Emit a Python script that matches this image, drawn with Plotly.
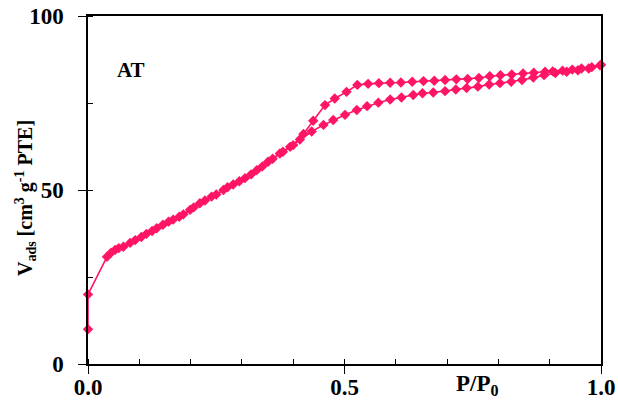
import plotly.graph_objects as go

# Adsorption branch (lower)
ads_x = [0.0, 0.0, 0.037, 0.053, 0.069, 0.092, 0.114, 0.134, 0.157, 0.178, 0.199, 0.218,
         0.241, 0.264, 0.283, 0.306, 0.329, 0.351, 0.374, 0.394, 0.413, 0.436, 0.459,
         0.478, 0.501, 0.524, 0.544, 0.566, 0.589, 0.611, 0.634, 0.652, 0.673, 0.696,
         0.717, 0.738, 0.760, 0.782, 0.803, 0.825, 0.846, 0.868, 0.889, 0.911, 0.933,
         0.955, 0.976, 0.998]
ads_y = [10.0, 20.0, 30.8, 32.8, 33.7, 35.6, 37.4, 39.0, 40.9, 42.3, 44.3, 46.2,
         48.1, 50.0, 51.6, 53.4, 55.7, 58.1, 60.5, 62.4, 64.5, 66.8, 68.7,
         70.1, 71.6, 73.0, 74.1, 75.1, 76.0, 76.6, 77.3, 77.8, 78.0, 78.4,
         78.9, 79.3, 79.7, 80.3, 80.7, 81.1, 81.6, 82.3, 83.0, 83.6, 84.0,
         84.4, 84.9, 85.8]

# Desorption branch (upper)
des_x = [1.000, 0.982, 0.962, 0.944, 0.925, 0.906, 0.891, 0.869, 0.848, 0.826, 0.804,
         0.783, 0.762, 0.740, 0.718, 0.696, 0.675, 0.654, 0.632, 0.610, 0.589, 0.567,
         0.546, 0.525, 0.504, 0.481, 0.462, 0.439, 0.420, 0.400, 0.380, 0.360, 0.340,
         0.318, 0.295, 0.272, 0.250, 0.228, 0.206, 0.186, 0.166, 0.146, 0.125, 0.104,
         0.082, 0.060, 0.045]
des_y = [86.0, 85.3, 84.9, 84.6, 84.3, 84.1, 84.0, 83.7, 83.5, 83.2, 83.0,
         82.7, 82.2, 81.9, 81.8, 81.6, 81.4, 81.3, 81.1, 80.9, 80.8, 80.7,
         80.5, 80.2, 78.2, 76.3, 74.4, 69.9, 66.1, 62.9, 61.0, 59.0, 56.8,
         54.5, 52.5, 50.8, 48.7, 47.0, 45.0, 43.0, 41.5, 40.0, 38.2, 36.5,
         34.8, 33.3, 32.0]

color = "#FF1466"
font_family = "Liberation Serif, Times New Roman, serif"

fig = go.Figure()
for xs, ys in [(ads_x, ads_y), (des_x, des_y)]:
    fig.add_trace(go.Scatter(
        x=xs, y=ys, mode="lines+markers",
        line=dict(color=color, width=1.6),
        marker=dict(symbol="diamond", size=8, color=color),
        showlegend=False, cliponaxis=False,
    ))

axis_common = dict(
    showline=True, linecolor="black", linewidth=1.5, mirror=True,
    showgrid=False, zeroline=False, automargin=False,
    ticks="outside", ticklen=8, tickwidth=1, tickcolor="black",
    tickfont=dict(family=font_family, size=23, color="black", weight="bold"),
)

fig.update_xaxes(range=[0, 1], tickvals=[0, 0.5, 1.0], ticktext=["0.0", "0.5", "1.0"],
                 minor=dict(dtick=0.1, ticks="inside", ticklen=5, tickcolor="black"),
                 ticklabelstandoff=-6,
                 **axis_common)
fig.update_yaxes(range=[0, 100], tickvals=[0, 50, 100],
                 minor=dict(dtick=25, ticks="inside", ticklen=5, tickcolor="black"),
                 ticklabelstandoff=10,
                 **axis_common)

fig.add_annotation(x=-0.122, y=0.478, xref="paper", yref="paper",
                   xanchor="center", yanchor="middle", textangle=-90,
                   text="V<sub>ads</sub> [cm<sup>3</sup> g<sup>-1</sup> PTE]", showarrow=False,
                   font=dict(family=font_family, size=20, color="black", weight="bold"))
fig.add_annotation(x=0.76, y=-0.015, xref="x", yref="paper", yanchor="top",
                   text="P/P<sub>0</sub>", showarrow=False,
                   font=dict(family=font_family, size=23, color="black", weight="bold"))
fig.add_annotation(x=0.084, y=84.5, xref="x", yref="y",
                   text="AT", showarrow=False,
                   font=dict(family=font_family, size=21, color="black", weight="bold"))

fig.update_layout(
    width=618, height=407,
    margin=dict(l=88, r=17, t=16, b=43),
    paper_bgcolor="white", plot_bgcolor="white",
)

fig.write_html("out.html", config={"displayModeBar": False},
               post_script="document.body.style.margin='0px';document.body.style.padding='0px';")
